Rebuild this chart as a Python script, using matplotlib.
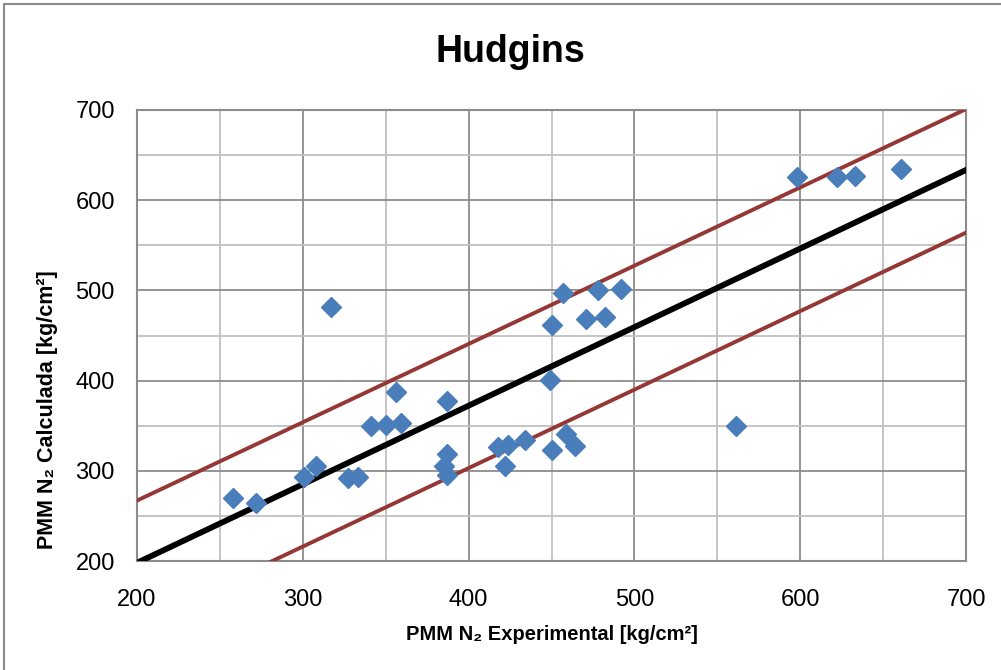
import matplotlib
matplotlib.use("Agg")
import matplotlib.pyplot as plt
from matplotlib.patches import Rectangle

fam = ['Liberation Sans Narrow', 'Liberation Sans', 'DejaVu Sans']
plt.rcParams['font.family'] = fam

# experimental vs calculated values
exp_vals = [258, 272, 301, 308, 317, 327, 333, 341, 350, 359, 356, 387, 387, 385, 387,
            418, 424, 422, 434, 450, 457, 478, 492, 471, 482, 449, 450, 459, 464,
            598, 622, 633, 661, 561]
calc_vals = [270, 264, 293, 305, 482, 292, 293, 350, 351, 353, 387, 377, 319, 305, 295,
             326, 329, 305, 334, 462, 497, 500, 502, 468, 471, 401, 323, 341, 328,
             626, 626, 627, 635, 350]

# trend line and band endpoints
line_x = [200, 700]
center_y = [198, 633.5]
upper_y = [267, 701]
lower_y = [129, 564]

fig = plt.figure(figsize=(10.01, 6.70), dpi=100)
ax = fig.add_axes([137/1001, 1-561/670, (966-137)/1001, (561-110)/670])

ax.plot(line_x, upper_y, color='#953735', lw=2.8, zorder=3)
ax.plot(line_x, lower_y, color='#953735', lw=2.8, zorder=3)
ax.plot(line_x, center_y, color='black', lw=4.2, zorder=3)
ax.plot(exp_vals, calc_vals, linestyle='none', marker='D', ms=10.5,
        color='#4A7EBB', mec='#4A7EBB', zorder=4)

ax.set_xlim(200, 700)
ax.set_ylim(200, 700)
ax.set_xticks(range(200, 701, 100))
ax.set_yticks(range(200, 701, 100))
ax.set_xticks(range(250, 700, 100), minor=True)
ax.set_yticks(range(250, 700, 100), minor=True)
ax.grid(which='major', color='#8c8c8c', lw=1.3)
ax.grid(which='minor', color='#c0c0c0', lw=1.3)
ax.set_axisbelow(True)
ax.tick_params(which='both', length=0)
ax.tick_params(axis='x', labelsize=17, pad=20)
ax.tick_params(axis='y', labelsize=17, pad=16)
for s in ax.spines.values():
    s.set_color('#8c8c8c')
    s.set_linewidth(1.5)

ax.set_xlabel('PMM N\u2082 Experimental [kg/cm\u00b2]', fontsize=14.5, fontweight='bold', labelpad=10)
ax.set_ylabel('PMM N\u2082 Calculada [kg/cm\u00b2]', fontsize=15.5, fontweight='bold')
ax.yaxis.set_label_coords(-0.095, 0.335)
fig.text(510/1001, 1-52/670, 'Hudgins', fontsize=27, fontweight='bold', ha='center', va='center')

fig.add_artist(Rectangle((4/1001, -0.5), 2, 0.5 + 1 - 4/670, fill=False,
                         edgecolor='#8c8c8c', lw=1.5, transform=fig.transFigure))

fig.savefig('out.png', dpi=100)
